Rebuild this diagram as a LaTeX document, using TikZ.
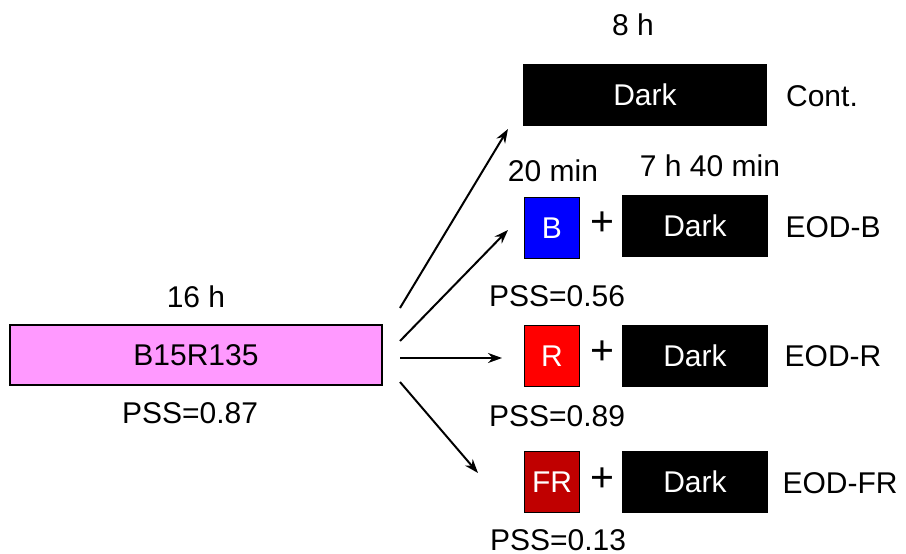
\documentclass[tikz,border=0pt]{standalone}
\usepackage{fontspec}
\setmainfont{Liberation Sans}
\usetikzlibrary{arrows.meta}
\definecolor{pinkfill}{HTML}{FF99FF}
\definecolor{bluefill}{HTML}{0000FF}
\definecolor{redfill}{HTML}{FF0000}
\definecolor{frfill}{HTML}{C00000}
\begin{document}
\begin{tikzpicture}[x=1pt,y=-1pt,
  every node/.style={font=\fontsize{30}{34}\selectfont, inner sep=0pt},
  box/.style={draw=black, line width=1.5pt, minimum height=61pt},
  darkbox/.style={box, fill=black, text=white, minimum width=144pt},
  lightbox/.style={box, text=white, minimum width=55pt},
  lbl/.style={anchor=center},
  plus/.style={font=\fontsize{41}{44}\selectfont},
  arr/.style={line width=2pt, -{Stealth[length=14pt,width=10pt]}}]
\useasboundingbox (0,0) rectangle (906,554);
% left
\node[box, fill=pinkfill, minimum width=372pt, minimum height=60pt] (main) at (196,355) {B15R135};
\node[lbl] (t16) at (196,297) {16 h};
\node[lbl] (p087) at (190,413) {PSS=0.87};
% control
\node[box, fill=black, text=white, minimum width=242pt] (cont) at (645,95) {Dark};
\node[lbl] (t8) at (633,25) {8 h};
\node[lbl] (lcont) at (822,96) {Cont.};
% EOD-B
\node[lightbox, fill=bluefill] (B) at (552,228) {B};
\node[lbl, plus] (pB) at (602,224) {+};
\node[darkbox] (dB) at (695,226) {Dark};
\node[lbl] (lB) at (833,227) {EOD-B};
\node[lbl] (t20) at (553,171) {20 min};
\node[lbl] (t740) at (710,166) {7 h 40 min};
\node[lbl] (p056) at (557,296) {PSS=0.56};
% EOD-R
\node[lightbox, fill=redfill] (R) at (552,356) {R};
\node[lbl, plus] (pR) at (602,353) {+};
\node[darkbox] (dR) at (695,356) {Dark};
\node[lbl] (lR) at (833,356) {EOD-R};
\node[lbl] (p089) at (557,416) {PSS=0.89};
% EOD-FR
\node[lightbox, fill=frfill] (FR) at (552,482) {FR};
\node[lbl, plus] (pFR) at (602,480) {+};
\node[darkbox] (dFR) at (695,482) {Dark};
\node[lbl] (lFR) at (840,483) {EOD-FR};
\node[lbl] (p013) at (558,540) {PSS=0.13};
% arrows
\coordinate (s1) at (400,308);
\coordinate (e1) at (508,129);
\coordinate (s2) at (400,341);
\coordinate (e2) at (508,230);
\coordinate (s3) at (400,358);
\coordinate (e3) at (502,358);
\coordinate (s4) at (400,382);
\coordinate (e4) at (478,473);
\draw[arr] (s1) -- (e1);
\draw[arr] (s2) -- (e2);
\draw[arr] (s3) -- (e3);
\draw[arr] (s4) -- (e4);
\end{tikzpicture}
\end{document}
